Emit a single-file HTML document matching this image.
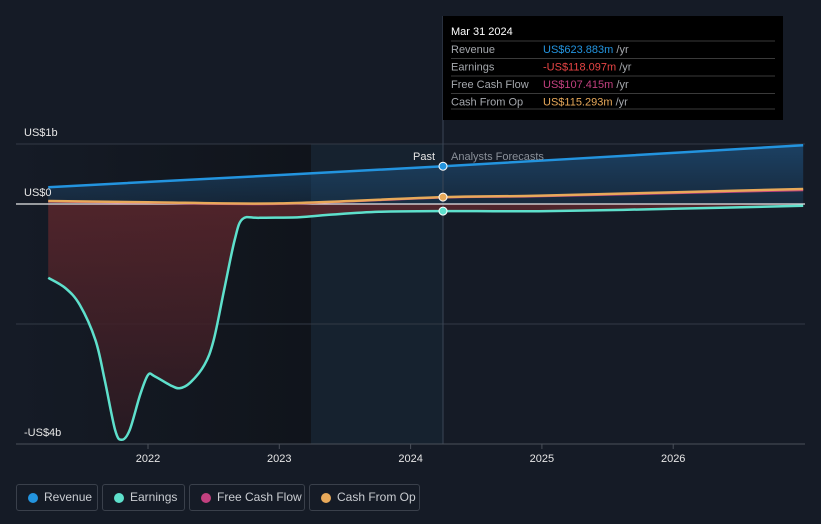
<!DOCTYPE html>
<html><head><meta charset="utf-8"><style>
body{margin:0;background:#151b26;width:821px;height:524px;overflow:hidden;font-family:"Liberation Sans",sans-serif}
svg{position:absolute;left:0;top:0}
.lg{position:absolute;top:484px;height:27px;border:1px solid #3a404b;border-radius:3px;color:#c9ccd1;font-size:12px;line-height:25px;box-sizing:border-box;white-space:nowrap}
.lg i{position:absolute;left:11px;top:8px;width:10px;height:10px;border-radius:50%}
.lg span{position:absolute;left:28px}
</style></head><body>
<svg id="c" width="821" height="524"></svg>
<div class="lg" style="left:16px;width:82px"><i style="background:#2394df"></i><span style="left:27px">Revenue</span></div>
<div class="lg" style="left:102px;width:83px"><i style="background:#5ee0cc"></i><span style="left:27px">Earnings</span></div>
<div class="lg" style="left:189px;width:116px"><i style="background:#c2407f"></i><span style="left:27px">Free Cash Flow</span></div>
<div class="lg" style="left:309px;width:111px"><i style="background:#e8a95a"></i><span style="left:27px">Cash From Op</span></div>
<script>
const yearTicks=[2022,2023,2024,2025,2026];
const yTickVals=[1,0,-4];
const yTickLabels=["US$1b","US$0","-US$4b"];
const revT=[2021.24,2024.25,2026.99];
const revV=[0.28,0.63,0.98];
const earnT=[2021.24,2021.37,2021.48,2021.6,2021.67,2021.75,2021.8,2021.86,2021.94,2022.0,2022.05,2022.17,2022.24,2022.32,2022.43,2022.5,2022.58,2022.66,2022.72,2022.85,2023.15,2023.38,2023.76,2024.25,2024.98,2026.0,2026.99];
const earnV=[-1.23,-1.4,-1.68,-2.27,-2.93,-3.77,-3.93,-3.77,-3.18,-2.85,-2.87,-3.02,-3.07,-2.98,-2.68,-2.27,-1.43,-0.6,-0.25,-0.23,-0.22,-0.18,-0.13,-0.118,-0.12,-0.08,-0.03];
const cfoT=[2021.24,2022.0,2023.0,2024.25,2025.0,2026.99];
const cfoV=[0.05,0.03,0.01,0.115,0.14,0.25];
const fcfT=[2021.24,2022.0,2023.0,2024.25,2025.0,2026.99];
const fcfV=[0.04,0.02,0.0,0.107,0.13,0.23];
const NS='http://www.w3.org/2000/svg';
const svg=document.getElementById('c');
const X=t=>148+(t-2022)*131.3, Y=v=>204-v*60;
function el(tag,a,p){const e=document.createElementNS(NS,tag);for(const k in a)e.setAttribute(k,a[k]);(p||svg).appendChild(e);return e;}
function path(T,V){const p=T.map((t,i)=>[X(t),Y(V[i])]);let d='M'+p[0];for(let i=0;i<p.length-1;i++){const a=p[i-1]||p[i],b=p[i],c=p[i+1],e=p[i+2]||c;d+=' C'+(b[0]+(c[0]-a[0])/6)+','+(b[1]+(c[1]-a[1])/6)+' '+(c[0]-(e[0]-b[0])/6)+','+(c[1]-(e[1]-b[1])/6)+' '+c;}return d;}
const defs=el('defs',{});
defs.innerHTML='<linearGradient id="rg" x1="0" y1="0" x2="0" y2="1"><stop offset="0" stop-color="#1d4a72" stop-opacity=".8"/><stop offset="1" stop-color="#1d4a72" stop-opacity=".3"/></linearGradient><linearGradient id="eg" x1="0" y1="0" x2="0" y2="1"><stop offset="0" stop-color="#5a262c"/><stop offset="1" stop-color="#2a1a22"/></linearGradient><linearGradient id="pg" x1="0" y1="0" x2="1" y2="0"><stop offset="0" stop-color="#151b26"/><stop offset="1" stop-color="#10141b"/></linearGradient>';
let r=el('rect',{x:16,y:144,width:295,height:300,fill:'url(#pg)'});
r=el('rect',{x:311,y:144,width:132,height:300,fill:'#16222f'});
[144,324].forEach(y=>el('line',{x1:16,x2:805,y1:y,y2:y,stroke:'#323945'}));
let p=el('path',{d:path(revT,revV)+` L${X(revT[revT.length-1])},204 L${X(revT[0])},204Z`,fill:'url(#rg)'});
p=el('path',{d:path(earnT,earnV)+` L${X(earnT[earnT.length-1])},204 L${X(earnT[0])},204Z`,fill:'url(#eg)',opacity:.85});
el('line',{x1:443,x2:443,y1:16,y2:444,stroke:'#3a4656'});
el('line',{x1:16,x2:805,y1:204,y2:204,stroke:'#e8e8e8','stroke-width':1.2});
el('line',{x1:16,x2:805,y1:444,y2:444,stroke:'#4a505a'});
yearTicks.forEach(t=>{el('line',{x1:X(t),x2:X(t),y1:444,y2:449,stroke:'#4a505a'});const tx=el('text',{x:X(t),y:462,fill:'#e6e6e6','font-size':11,'text-anchor':'middle'});tx.textContent=t;});
yTickVals.forEach((v,i)=>{const tx=el('text',{x:24,y:Y(v)-8,fill:'#e6e6e6','font-size':11});tx.textContent=yTickLabels[i];});
p=el('path',{d:path(fcfT,fcfV),fill:'none',stroke:'#c2407f','stroke-width':2});
p=el('path',{d:path(cfoT,cfoV),fill:'none',stroke:'#e8a95a','stroke-width':2.5});
p=el('path',{d:path(earnT,earnV),fill:'none',stroke:'#5ee0cc','stroke-width':2.5});
p=el('path',{d:path(revT,revV),fill:'none',stroke:'#2394df','stroke-width':2.5});
[[revV[1],'#2394df'],[cfoV[3],'#e8a95a'],[earnV[23],'#5ee0cc']].forEach(([v,c])=>{const d=el('circle',{cx:443,cy:Y(v),r:4,fill:c,stroke:'#fff','stroke-width':1});});
let t=el('text',{x:435,y:160,fill:'#e6e6e6','font-size':11,'text-anchor':'end'});t.textContent='Past';
t=el('text',{x:451,y:160,fill:'#8a9099','font-size':11});t.textContent='Analysts Forecasts';
const g=el('g',{});
el('rect',{x:443,y:16,width:340,height:104,fill:'#000'},g);
let tt=el('text',{x:451,y:35,fill:'#fff','font-size':11},g);tt.textContent='Mar 31 2024';
const rows=[['Revenue','US$623.883m','#2394df'],['Earnings','-US$118.097m','#e84545'],['Free Cash Flow','US$107.415m','#c2407f'],['Cash From Op','US$115.293m','#e8a95a']];
rows.forEach((rw,i)=>{const y=53+i*17.5;el('line',{x1:451,x2:775,y1:y-12,y2:y-12,stroke:'#3a3a3a'},g);
let a=el('text',{x:451,y:y,fill:'#a5a8ad','font-size':11},g);a.textContent=rw[0];
a=el('text',{x:543,y:y,fill:rw[2],'font-size':11},g);a.innerHTML=rw[1]+'<tspan fill="#a5a8ad"> /yr</tspan>';});
el('line',{x1:451,x2:775,y1:109,y2:109,stroke:'#3a3a3a'},g);
</script>
</body></html>
